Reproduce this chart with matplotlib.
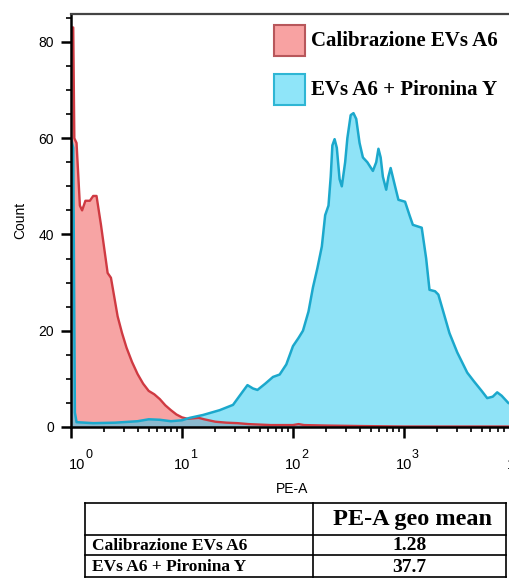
import numpy as np
import matplotlib.pyplot as plt
from matplotlib.patches import Rectangle
from matplotlib.ticker import LogLocator, MultipleLocator
from matplotlib.transforms import offset_copy

plt.rcParams['font.family'] = ['Liberation Sans', 'DejaVu Sans']

# histogram, x given as log10(PE-A)
red_log = [0.00, 0.02, 0.03, 0.05, 0.08, 0.10, 0.13, 0.17, 0.20, 0.23, 0.25, 0.27,
           0.30, 0.33, 0.36, 0.39, 0.42, 0.46, 0.50, 0.55, 0.60, 0.65, 0.70, 0.75,
           0.80, 0.85, 0.90, 0.95, 1.00, 1.05, 1.10, 1.15, 1.20, 1.30, 1.40, 1.50,
           1.60, 1.70, 1.80, 2.00, 2.05, 2.10, 2.30, 2.60, 3.00, 3.50, 4.05]
red_count = [83, 83, 60, 59, 46, 45, 47, 47, 48, 48, 45, 42,
             37, 32, 31, 27, 23, 19.5, 16.5, 13.5, 11, 9, 7.5, 6.8,
             5.8, 4.5, 3.5, 2.6, 2.0, 1.7, 1.8, 1.9, 1.6, 1.1, 0.9, 0.8,
             0.6, 0.5, 0.4, 0.4, 0.6, 0.4, 0.3, 0.2, 0.1, 0.1, 0.1]

blue_log = [0.00, 0.02, 0.035, 0.05, 0.2, 0.4, 0.6, 0.7, 0.8, 0.9, 1.0, 1.07,
            1.19, 1.34, 1.46, 1.52, 1.59, 1.64, 1.68, 1.75, 1.82, 1.88, 1.94, 2.0,
            2.05, 2.09, 2.14, 2.18, 2.22, 2.26, 2.29, 2.32, 2.34, 2.355, 2.375, 2.395,
            2.42, 2.44, 2.47, 2.49, 2.52, 2.545, 2.57, 2.60, 2.63, 2.67, 2.72, 2.75,
            2.77, 2.79, 2.81, 2.84, 2.86, 2.88, 2.92, 2.95, 3.01, 3.05, 3.08, 3.16,
            3.20, 3.23, 3.28, 3.31, 3.36, 3.41, 3.48, 3.57, 3.63, 3.70, 3.75, 3.80,
            3.84, 3.88, 3.94, 4.00, 4.05]
blue_count = [60, 58, 3, 1, 0.8, 0.9, 1.2, 1.6, 1.5, 1.2, 1.4, 1.9,
              2.5, 3.5, 4.6, 6.5, 8.7, 8.0, 7.7, 9.0, 10.4, 10.9, 13, 16.8,
              18.5, 20, 24, 29, 33, 37.5, 44, 46, 52, 58.5, 59.8, 58,
              51.5, 50, 55, 60, 64.8, 65.2, 64, 59, 56, 55, 53.2, 55,
              57.8, 56, 52, 49.3, 52, 53.8, 50, 47.2, 46.8, 44, 42, 41.4,
              35, 28.5, 28.2, 27.5, 23.5, 19.5, 15.5, 11.3, 9.5, 7.5, 6.0, 6.3,
              7.2, 6.5, 5.0, 4.5, 4.0]

decades = [0, 1, 2, 3, 4]
labels = ['Calibrazione EVs A6', 'EVs A6 + Pironina Y']
geo_means = ['1.28', '37.7']
table_header = 'PE-A geo mean'

red_x = 10 ** np.array(red_log)
blue_x = 10 ** np.array(blue_log)

W, H = 509, 581
fig = plt.figure(figsize=(W / 100, H / 100), dpi=100)

# axes: 1 decade ~111 px, runs past the right edge like the original
ax = fig.add_axes([71 / W, 154 / H, 449.5 / W, 413 / H])
ax.fill_between(red_x, red_count, 0, color=(0.95, 0.35, 0.35), alpha=0.55, lw=0)
ax.plot(red_x, red_count, color='#cf3a42', lw=1.7)
ax.fill_between(blue_x, blue_count, 0, color=(0.2, 0.8, 0.95), alpha=0.55, lw=0)
ax.plot(blue_x, blue_count, color='#1ba8cc', lw=1.8)

ax.set_xscale('log')
ax.set_xlim(1, 10 ** 4.05)
ax.set_ylim(0, 85.8)
ax.xaxis.set_major_locator(LogLocator(base=10, numticks=10))
ax.xaxis.set_minor_locator(LogLocator(base=10, subs=np.arange(2, 10), numticks=20))
ax.yaxis.set_major_locator(MultipleLocator(20))
ax.yaxis.set_minor_locator(MultipleLocator(5))
# sizes in points (1 px = 0.72 pt here)
ax.tick_params(axis='y', which='major', labelsize=10, width=1.8, length=7.2, pad=5)
ax.tick_params(axis='x', which='major', width=1.8, length=8, labelbottom=False)
ax.tick_params(axis='both', which='minor', width=1.2, length=3.6)
ax.spines['right'].set_visible(False)
ax.spines['top'].set_color('#444444')
ax.spines['top'].set_linewidth(1.6)
ax.spines['left'].set_linewidth(1.8)
ax.spines['bottom'].set_linewidth(1.8)
ax.set_ylabel('Count', fontsize=10)
ax.yaxis.set_label_coords(-44 / 449.5, 0.5)
ax.set_xlabel('PE-A', fontsize=10)
ax.xaxis.set_label_coords(221 / 449.5, -55 / 413)

# x tick labels: "10" with the exponent set high, as in the original
trans = ax.get_xaxis_transform()
for k in decades:
    shift = 6 if k == 0 else 0
    base_t = offset_copy(trans, fig=fig, x=shift, y=-31, units='dots')
    exp_t = offset_copy(trans, fig=fig, x=shift + 8, y=-34, units='dots')
    ax.text(10 ** k, 0, '10', transform=base_t, ha='center', va='top',
            fontsize=10.5, clip_on=False)
    ax.text(10 ** k, 0, str(k), transform=exp_t, ha='left', va='bottom',
            fontsize=9, clip_on=False)

# legend drawn by hand in pixel positions
serif = ['Liberation Serif', 'DejaVu Serif']
fills = ['#f8a2a2', '#8fe5f9']
edges = ['#b8575b', '#2fb6d4']
for i, (lab, fc, ec) in enumerate(zip(labels, fills, edges)):
    top = 25 + i * 49
    fig.add_artist(Rectangle((274 / W, 1 - (top + 31) / H), 31 / W, 31 / H,
                             transform=fig.transFigure, facecolor=fc,
                             edgecolor=ec, lw=1.5))
    fig.text(311 / W, 1 - (top + 16) / H, lab, family=serif, weight='bold',
             fontsize=15, va='center', ha='left')

# table below the plot
rows = [503, 535, 555, 577]
left, right, mid = 85, 506, 313
tab = fig.add_axes([0, 0, 1, 1], facecolor='none')
tab.set_xlim(0, W)
tab.set_ylim(H, 0)
tab.axis('off')
for y in rows:
    tab.plot([left, right], [y, y], color='black', lw=1.2)
for x in [left, mid, right]:
    tab.plot([x, x], [rows[0], rows[-1]], color='black', lw=1.2)
tab.text((mid + right) / 2 + 3, (rows[0] + rows[1]) / 2 + 1, table_header, family=serif,
         weight='bold', fontsize=17.5, ha='center', va='center')
for i, (lab, val) in enumerate(zip(labels, geo_means)):
    yc = (rows[i + 1] + rows[i + 2]) / 2 + 1
    tab.text(left + 7, yc, lab, family=serif, weight='bold', fontsize=12.5,
             ha='left', va='center')
    tab.text((mid + right) / 2, yc, val, family=serif, weight='bold', fontsize=14,
             ha='center', va='center')

fig.savefig('out.png', dpi=100)
